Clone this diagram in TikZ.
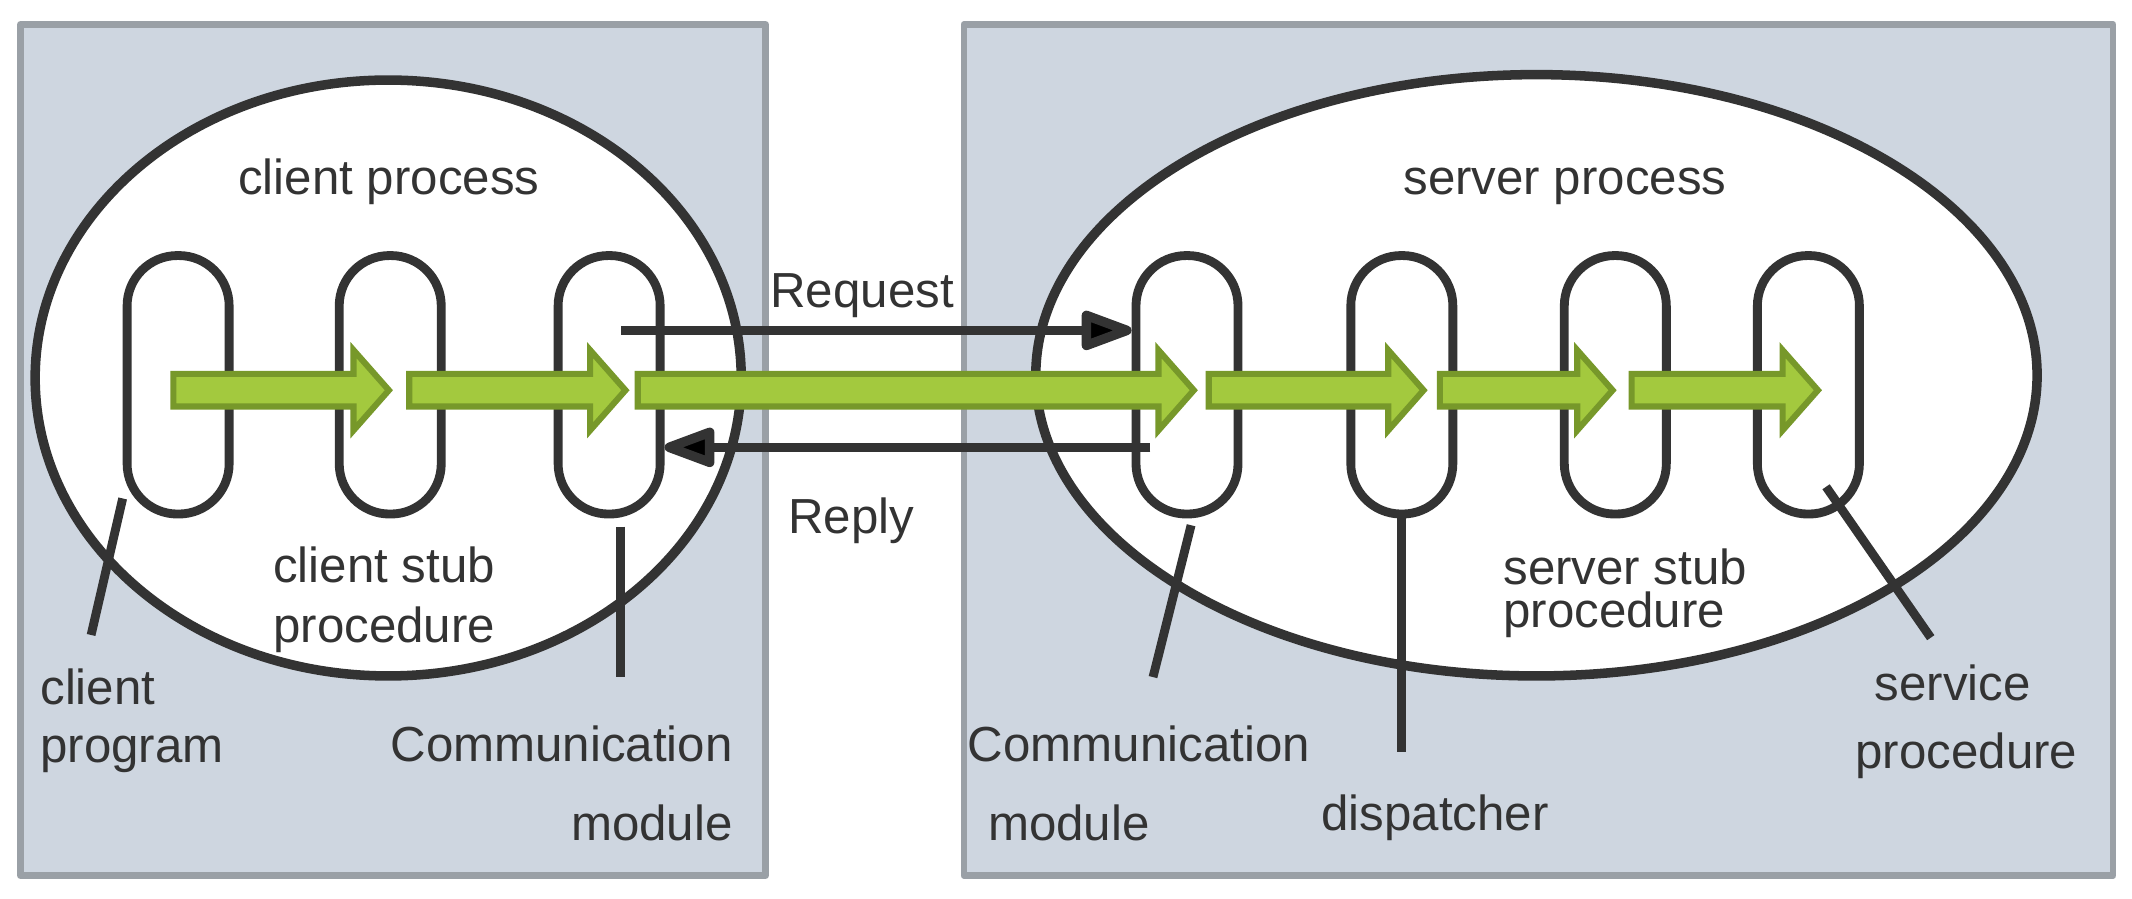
\documentclass[tikz,border=0pt]{standalone}
\usepackage{fontspec}
\setmainfont{Liberation Sans}
\usetikzlibrary{shapes.geometric,arrows.meta,calc}
\definecolor{boxfill}{HTML}{CED6E0}
\definecolor{boxline}{HTML}{9AA0A6}
\definecolor{ink}{HTML}{333333}
\definecolor{flowfill}{HTML}{A3C93E}
\definecolor{flowline}{HTML}{77982A}
\begin{document}
\begin{tikzpicture}[x=0.01cm, y=-0.01cm, line join=round, font=\fontsize{10.3}{12.5}\selectfont,
    host/.style={draw=boxline, fill=boxfill, line width=0.05cm},
    proc/.style={draw=ink, fill=white, ellipse, line width=0.07cm, inner sep=0pt},
    capsule/.style={draw=ink, line width=0.065cm, minimum width=0.75cm, minimum height=1.9cm, rounded corners=0.37cm, inner sep=0pt},
    lead/.style={draw=ink, line width=0.065cm},
    msg/.style={draw=ink, line width=0.07cm, -{Triangle[length=0.44cm, width=0.3cm, round, fill=black]}},
    flow/.style={draw=flowline, fill=flowfill, line width=0.045cm, line join=miter},
    lbl/.style={inner sep=0pt, text=ink}]
    \useasboundingbox (0,0) rectangle (1568,660.5);
    \draw[host] (15,18) rectangle (563,644);
    \draw[host] (709,18) rectangle (1554,644);
    \node[proc, minimum width=5.19cm, minimum height=4.38cm] (cproc) at (285.5,278) {};
    \node[proc, minimum width=7.36cm, minimum height=4.42cm] (sproc) at (1130,276) {};
    \node[capsule] (c1) at (131,283) {};
    \node[capsule] (c2) at (287,283) {};
    \node[capsule] (c3) at (448,283) {};
    \node[capsule] (s1) at (873,283) {};
    \node[capsule] (s2) at (1031,283) {};
    \node[capsule] (s3) at (1188,283) {};
    \node[capsule] (s4) at (1330,283) {};
    \coordinate (cprogend) at (67,467);
    \coordinate (ccommend) at (456.5,498);
    \coordinate (scommend) at (848,498);
    \coordinate (dispend) at (1031,553);
    \coordinate (svcend) at (1420,469);
    \draw[lead] (c1.-116) -- (cprogend);
    \draw[lead] ($(c3.south)+(8.5,6)$) -- (ccommend);
    \draw[lead] ($(s1.south)+(3,5)$) -- (scommend);
    \draw[lead] (s2.south) -- (dispend);
    \draw[lead] ($(s4.center)+(13,75)$) -- (svcend);
    \coordinate (reqstart) at (457,243);
    \coordinate (repstart) at (846,329);
    \draw[msg] (reqstart) -- (reqstart -| s1.west);
    \draw[msg] (repstart) -- (repstart -| c3.east);
    \foreach \a/\b in {127.5/286, 301/460, 469/878, 889/1047, 1059/1186, 1200/1337}
        \draw[flow] (\a,275) -- (\b-26,275) -- (\b-26,257.5) -- (\b,287) -- (\b-26,316.5) -- (\b-26,299) -- (\a,299) -- cycle;
    \node[lbl, anchor=base] (cptitle) at (286,143) {client process};
    \node[lbl, anchor=base] (sptitle) at (1151,143) {server process};
    \node[lbl, anchor=base] (reqtxt) at (634,226) {Request};
    \node[lbl, anchor=base] (reptxt) at (626,392) {Reply};
    \node[lbl, align=center, font=\fontsize{10.3}{12.5}\selectfont] (cstub) at (282.5,441) {client stub\\procedure};
    \node[lbl, align=left, anchor=west, font=\fontsize{10.3}{9.1}\selectfont] (sstub) at (1105,436.5) {server stub\\procedure};
    \node[lbl, align=left, anchor=west, font=\fontsize{10.3}{12.2}\selectfont] (cprog) at (29,530) {client\\program};
    \node[lbl, align=right, anchor=east, font=\fontsize{10.3}{16.5}\selectfont] (ccomm) at (539.5,576) {Communication\\module};
    \node[lbl, align=left, anchor=west, font=\fontsize{10.3}{16.5}\selectfont] (scomm) at (711,576) {Communication\\\hspace*{0.15cm}module};
    \node[lbl, align=left, anchor=west, font=\fontsize{10.3}{14.2}\selectfont] (svc) at (1364,531) {\hspace*{0.14cm}service\\procedure};
    \node[lbl, anchor=base] (disp) at (1055.5,611) {dispatcher};
\end{tikzpicture}
\end{document}
